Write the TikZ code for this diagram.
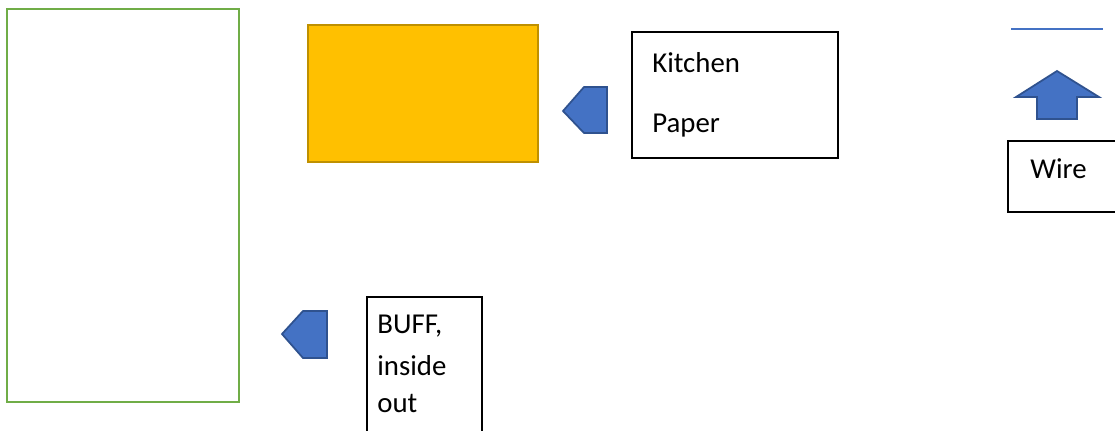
\documentclass[tikz,border=0pt]{standalone}
\usepackage{fontspec}
\setmainfont{Carlito}
\usetikzlibrary{positioning}
\definecolor{kpGreen}{HTML}{70AD47}
\definecolor{kpGold}{HTML}{FFC000}
\definecolor{kpGoldEdge}{HTML}{BF9000}
\definecolor{kpBlue}{HTML}{4472C4}
\definecolor{kpBlueEdge}{HTML}{2F528F}
\tikzset{
    kpFrame/.style={
        rectangle,
        draw=kpGreen,
        line width=1.4pt,
        inner sep=0pt
    },
    kpPad/.style={
        rectangle,
        draw=kpGoldEdge,
        fill=kpGold,
        line width=1pt,
        inner sep=0pt
    },
    kpBox/.style={
        rectangle,
        draw=black,
        line width=0.9pt,
        inner sep=0pt
    },
    kpLabel/.style={
        anchor=base west,
        inner sep=0pt,
        font=\fontsize{16.4}{20}\selectfont
    },
    % block arrows
    kpArrow/.style={fill=kpBlue, draw=kpBlueEdge, line width=1pt, line join=miter},
    kpRule/.style={draw=kpBlue, line width=0.8pt}
}
\begin{document}
\begin{tikzpicture}[x=0.02cm, y=-0.02cm]
    \useasboundingbox (0,0) rectangle (1115,430);
    \clip (0,0) rectangle (1115,430);

    % left frame and kitchen paper pad
    \node[kpFrame, minimum width=4.64cm, minimum height=7.86cm] (frame) at (123,205.5) {};
    \node[kpPad, minimum width=4.6cm, minimum height=2.74cm] (pad) at (423,93.5) {};

    % labelled boxes
    \node[kpBox, minimum width=4.12cm, minimum height=2.52cm] (kitchen) at (735,95) {};
    \node[kpLabel] (kitchenA) at (652,72) {Kitchen};
    \node[kpLabel] (kitchenB) at (652,132) {Paper};

    \node[kpBox, minimum width=2.3cm, minimum height=2.9cm] (buff) at (424.5,369.5) {};
    \node[kpLabel] (buffA) at (377,333) {BUFF,};
    \node[kpLabel] (buffB) at (377,375) {inside};
    \node[kpLabel] (buffC) at (377,412) {out};

    \node[kpBox, minimum width=2.3cm, minimum height=1.42cm] (wire) at (1065.5,176.5) {};
    \node[kpLabel] (wireA) at (1030,178) {Wire};

    % pointers
    \draw[kpArrow] (563,111) -- (584,87) -- (607,87) -- (607,133) -- (584,133) -- cycle;
    \draw[kpArrow] (282,334) -- (303,311) -- (327,311) -- (327,358) -- (303,358) -- cycle;
    \draw[kpArrow] (1057,71) -- (1099,97) -- (1077,97) -- (1077,119)
        -- (1037,119) -- (1037,97) -- (1016,97) -- cycle;

    % wire line
    \coordinate (wireL) at (1011,29);
    \coordinate (wireR) at (1103,29);
    \draw[kpRule] (wireL) -- (wireR);
\end{tikzpicture}
\end{document}
